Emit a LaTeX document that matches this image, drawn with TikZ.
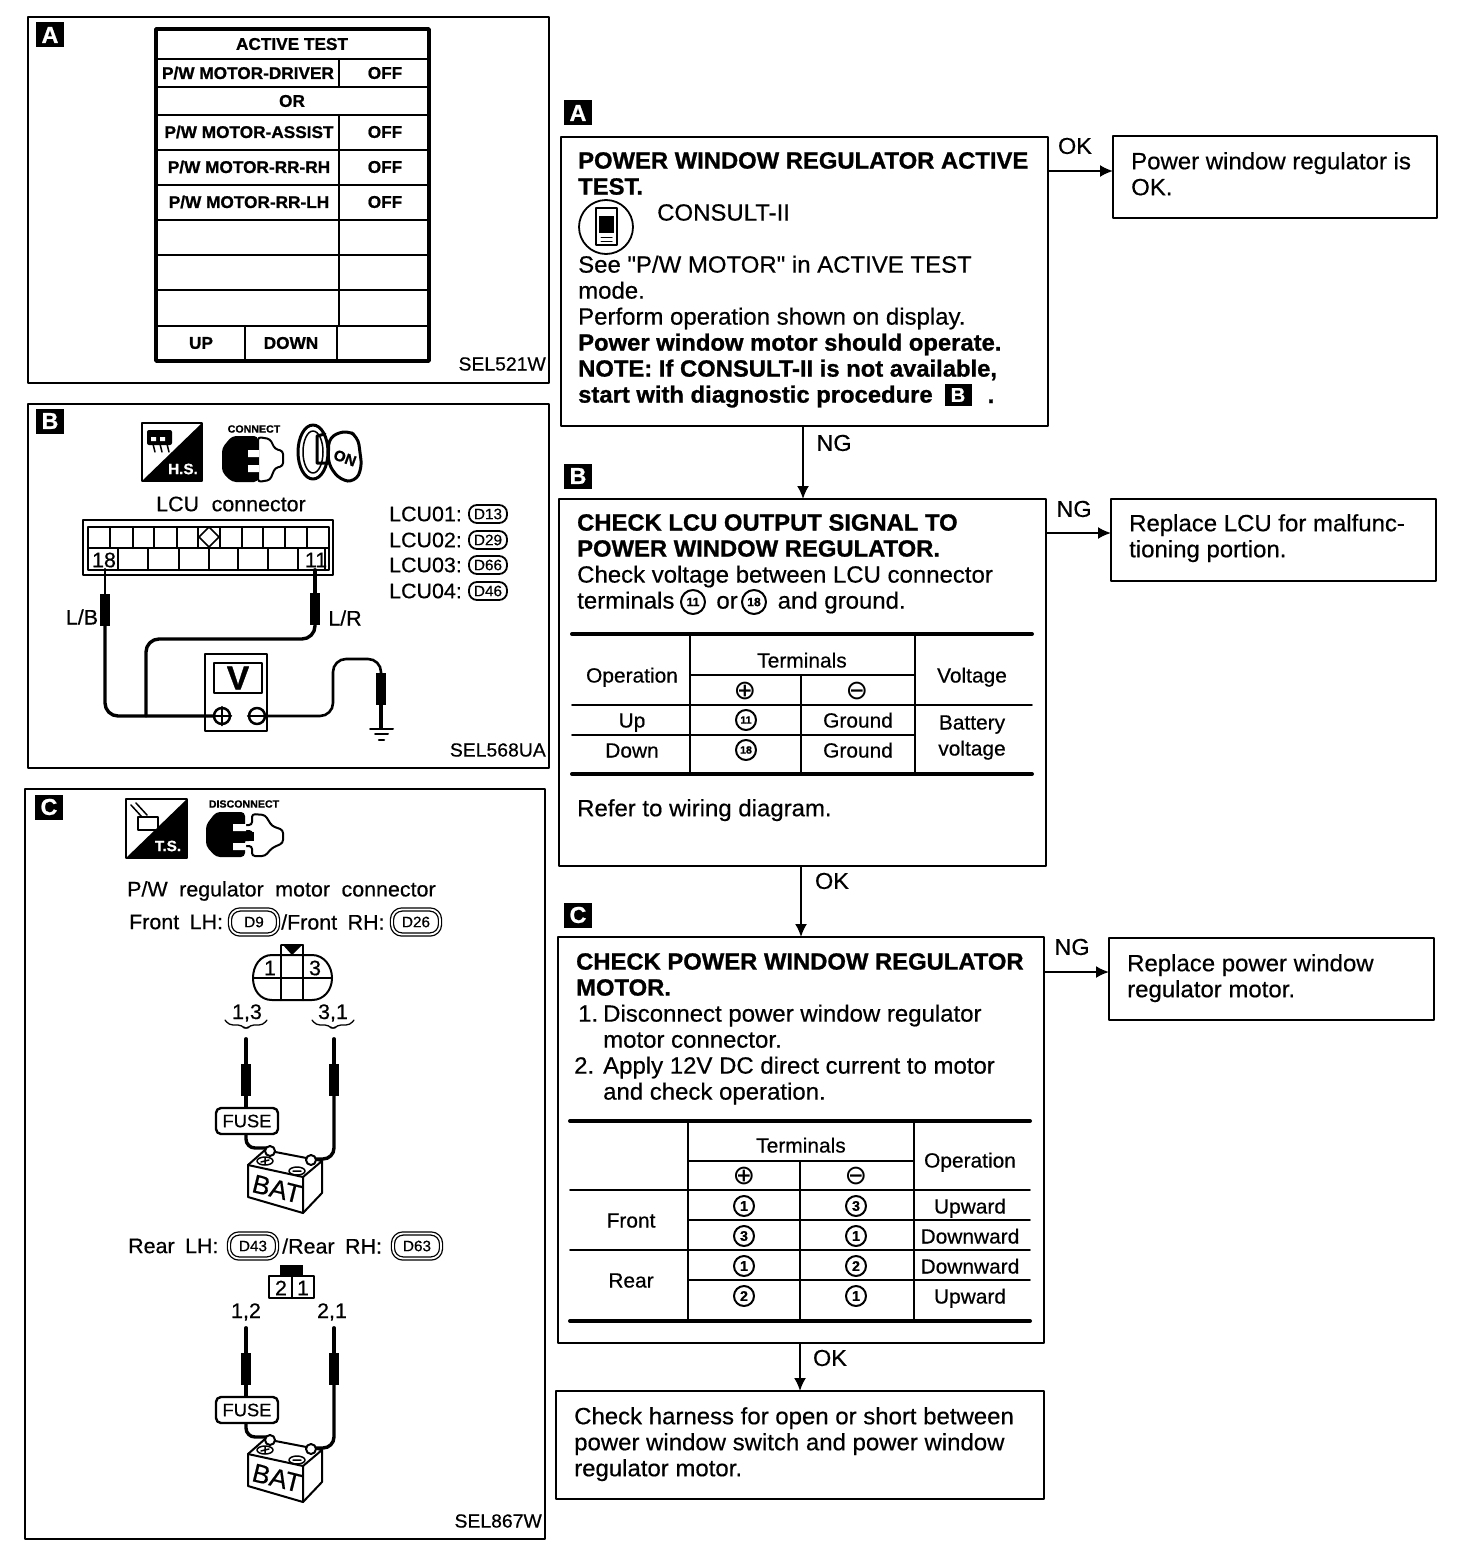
\documentclass[tikz,border=0pt]{standalone}
\usepackage{fontspec}
\setmainfont[Ligatures=TeXOff,FakeStretch=1.02,FakeBold=0.5,BoldFeatures={FakeStretch=1.013,FakeBold=1}]{Liberation Sans}
\newfontfamily\symfont{DejaVu Sans}
\usetikzlibrary{arrows.meta, positioning}

\begin{document}
\begin{tikzpicture}[
  x=1pt,
  y=-1pt,
  line cap=round,
  line join=round,
  panel/.style={
    draw=black,
    line width=2pt,
    inner sep=0pt,
    outer sep=0pt
  },
  flowbox/.style={
    draw=black,
    line width=2pt,
    inner sep=0pt,
    outer sep=0pt
  },
  badge/.style={
    fill=black,
    text=white,
    font=\fontsize{23}{23}\selectfont\bfseries,
    minimum width=28pt,
    minimum height=25pt,
    inner sep=0pt
  },
  body/.style={
    anchor=north west,
    align=left,
    inner sep=0pt,
    font=\fontsize{23.5}{26}\selectfont
  },
  flag/.style={
    font=\fontsize{23}{23}\selectfont,
    inner sep=0pt
  },
  cell/.style={
    font=\fontsize{20.5}{26}\selectfont,
    inner sep=0pt,
    text height=15pt,
    text depth=0pt,
    align=center
  },
  signcell/.style={
    font=\fontsize{27}{27}\selectfont\symfont,
    inner sep=0pt
  },
  pinmark/.style={
    draw=black,
    circle,
    line width=2pt,
    fill=white,
    minimum size=20pt,
    inner sep=0pt,
    font=\fontsize{14}{14}\selectfont\bfseries
  },
  smallpin/.style={
    pinmark,
    font=\fontsize{10.5}{10}\selectfont\bfseries
  },
  testcell/.style={
    font=\fontsize{17}{17}\selectfont\bfseries,
    inner sep=0pt
  },
  sheet/.style={
    font=\fontsize{19}{18}\selectfont,
    anchor=east,
    inner sep=0pt
  },
  note/.style={
    font=\fontsize{21}{21}\selectfont,
    inner sep=0pt
  },
  tag/.style={
    draw=black,
    line width=1.8pt,
    rounded corners=8pt,
    minimum width=38pt,
    minimum height=18pt,
    inner sep=0pt,
    font=\fontsize{15}{15}\selectfont
  },
  dtag/.style={
    draw=black,
    line width=1.3pt,
    double,
    double distance=1.8pt,
    rounded corners=10pt,
    minimum width=48pt,
    minimum height=25pt,
    inner sep=0pt,
    font=\fontsize{15}{15}\selectfont
  },
  probe/.style={
    fill=black,
    minimum width=10pt,
    minimum height=32pt,
    inner sep=0pt
  },
  fuse/.style={
    draw=black,
    line width=2.4pt,
    fill=white,
    rounded corners=5pt,
    minimum width=62pt,
    minimum height=26pt,
    inner sep=0pt,
    font=\fontsize{18}{18}\selectfont
  },
  wire/.style={line width=3.4pt},
  thinwire/.style={line width=2pt},
  rule/.style={line width=1.8pt},
  testrule/.style={line width=2.4pt},
  heavy/.style={line width=4pt},
  arrow/.style={
    -{Latex[length=13pt,width=12pt]},
    line width=2pt,
    draw=black
  }
]
\path[fill=white] (0,0) rectangle (1472,1560);
\useasboundingbox (0,0) rectangle (1472,1560);

% ------------------------------------------------
% Panel A: active test display
% ------------------------------------------------
\node[panel, minimum width=521pt, minimum height=366pt] (panelA) at (288.5,200) {};
\node[badge] (tagA) at (50,35) {A};

\draw[line width=3.5pt] (156,29) rectangle (429,361);
\foreach \y in {59,87,115,150,185,220,255,290,326}
  \draw[testrule] (156,\y) -- (429,\y);
\draw[testrule] (339,59) -- (339,87);
\draw[testrule] (339,115) -- (339,326);
\draw[testrule] (245,326) -- (245,361);
\draw[testrule] (337,326) -- (337,361);

\node[testcell] (testHead) at (292,44) {ACTIVE TEST};
\node[testcell] (testOr) at (292,101) {OR};
\foreach \y/\lbl/\xx [count=\n] in {
    73/DRIVER/248, 132/ASSIST/249, 167/RR-RH/249, 202/RR-LH/249} {
  \node[testcell] (motor\n) at (\xx,\y) {P/W MOTOR-\lbl};
  \node[testcell] (off\n) at (385,\y) {OFF};
}
\node[testcell] (testUp) at (201,343) {UP};
\node[testcell] (testDown) at (291,343) {DOWN};
\node[sheet] (sheetA) at (546,364) {SEL521W};

% ------------------------------------------------
% Panel B: LCU output check
% ------------------------------------------------
\node[panel, minimum width=521pt, minimum height=364pt] (panelB) at (288.5,586) {};
\node[badge] (tagB) at (50,421) {B};

% harness side icon
\draw[line width=1.5pt] (142,423) rectangle (202,481);
\fill (202,423) -- (202,481) -- (142,481) -- cycle;
\fill[rounded corners=2pt] (147,430) rectangle (172,445);
\draw[line width=1.5pt] (153,444) -- (155,452) (160,444) -- (162,452) (167,444) -- (169,452);
\fill[white] (151,437) rectangle (156,441) (160,437) rectangle (165,441);
\node[font=\fontsize{15}{15}\selectfont\bfseries, text=white, inner sep=0pt] (iconHS) at (183,469) {H.S.};

% connector icon
\node[font=\fontsize{10.5}{10}\selectfont\bfseries, inner sep=0pt] (iconConnect) at (254,429) {CONNECT};
\draw[line width=2pt, fill=white, rounded corners=3pt] (258,437) -- (270,439) -- (275,449) -- (283,451) -- (283,466) -- (275,468) -- (270,480) -- (258,482) -- cycle;
\fill[rounded corners=4pt] (232,436) -- (258,436) -- (258,482) -- (232,482) -- (222,472) -- (222,448) -- cycle;
\fill[white] (248,450) rectangle (259,457) (248,465) rectangle (259,472);

% ignition switch icon
\draw[line width=3pt] (313,452) ellipse (15pt and 27pt);
\draw[line width=1.5pt] (313,452) ellipse (10pt and 21pt);
\draw[line width=3pt, fill=white, rounded corners=8pt] (329,437) -- (347,430) -- (358,437) -- (362,468) -- (355,482) -- (340,480) -- (328,464) -- cycle;
\draw[line width=3pt] (325,434) -- (317,436) -- (317,463) -- (328,463);
\node[font=\fontsize{15}{15}\selectfont\bfseries, rotate=-20, inner sep=0pt] (iconOn) at (345,458) {ON};

\node[note] (lcuTitle) at (231,504) {LCU\hspace{0.6em}connector};

% LCU connector body
\draw[line width=2pt] (83,520) rectangle (333,575);
\draw[line width=2.5pt] (88,527) rectangle (329,570);
\draw[line width=2pt] (88,548) -- (329,548);
\foreach \x in {110,133,154,177,198,220,242,263,285,307}
  \draw[line width=2pt] (\x,527) -- (\x,548);
\foreach \x in {118,148,179,209,238,268,298,325}
  \draw[line width=2pt] (\x,548) -- (\x,570);
\draw[line width=1.5pt, fill=white] (209,527) -- (219,537) -- (209,547) -- (199,537) -- cycle;
\node[note] (pin18) at (104,560) {18};
\node[note] (pin11) at (316,560) {11};

\node[note] (wireLB) at (82,617) {L/B};
\node[note] (wireLR) at (345,618) {L/R};

\foreach \y/\lbl/\code [count=\n] in {514/01/D13, 540/02/D29, 565/03/D66, 591/04/D46} {
  \node[note, anchor=west] (lcu\n) at (389,\y) {LCU\lbl:};
  \node[tag] (lcuTag\n) at (488,\y) {\code};
}

% voltmeter
\node[draw, line width=2pt, minimum width=62pt, minimum height=77pt, inner sep=0pt] (meter) at (236,692) {};
\node[draw, line width=2.4pt, minimum width=48pt, minimum height=30pt, inner sep=0pt,
  font=\fontsize{33}{33}\selectfont\bfseries] (meterV) at (238,678) {V};
\node[draw, circle, line width=2.5pt, minimum size=16pt, inner sep=0pt] (plus) at (222,716) {};
\node[draw, circle, line width=2.5pt, minimum size=16pt, inner sep=0pt] (minus) at (257,716) {};
\draw[line width=2pt] (plus.west) -- (plus.east) (plus.north) -- (plus.south) (minus.west) -- (minus.east);

\node[probe] (probeL) at (105,610) {};
\node[probe] (probeR) at (315,609) {};
\node[probe] (probeG) at (381,689) {};
\draw[thinwire] (probeL.north) -- ++(0,-25);
\draw[wire] (probeR.north) -- ++(0,-23);
\draw[wire, rounded corners=13pt] (probeL.south) |- (plus.west);
\draw[wire, rounded corners=13pt] (probeR.south) |- (146,639) -- (146,716);
\draw[line width=2.6pt, rounded corners=13pt] (minus.east) -- (333,716) -- (333,659) -- (381,659) -- (probeG.north);
\draw[wire] (probeG.south) -- (381,728);
\draw[thinwire] (370,729) -- (393,729);
\draw[thinwire] (375,734) -- (388,734);
\draw[line width=2.5pt] (379,740) -- (384,740);

\node[sheet] (sheetB) at (546,750) {SEL568UA};

% ------------------------------------------------
% Panel C: regulator motor check
% ------------------------------------------------
\node[panel, minimum width=520pt, minimum height=750pt] (panelC) at (285,1164) {};
\node[badge] (tagC) at (49,807) {C};

\draw[line width=1.5pt] (126,799) rectangle (187,858);
\fill (187,799) -- (187,858) -- (126,858) -- cycle;
\draw[line width=2pt] (138,817) rectangle (158,830);
\draw[line width=1.5pt] (131,805) -- (142,817) (136,803) -- (147,815);
\node[font=\fontsize{15}{15}\selectfont\bfseries, text=white, inner sep=0pt] (iconTS) at (168,846) {T.S.};

\node[font=\fontsize{10.5}{10}\selectfont\bfseries, inner sep=0pt] (iconDisconnect) at (244,804) {DISCONNECT};
\draw[line width=2pt, fill=white, rounded corners=3pt] (252,814) -- (265,815) -- (272,826) -- (283,830) -- (283,843) -- (272,848) -- (265,856) -- (252,856) -- (252,846) -- (243,846) -- (243,840) -- (252,840) -- (252,831) -- (243,831) -- (243,825) -- (252,825) -- cycle;
\fill[rounded corners=4pt] (216,812) -- (245,812) -- (245,857) -- (216,857) -- (206,846) -- (206,825) -- cycle;
\fill[white] (233,824) rectangle (246,831) (233,843) rectangle (246,850);
\fill (235,832) rectangle (254,841);

\node[note, anchor=west] (motorTitle) at (127,891) {P/W\hspace{0.55em}regulator\hspace{0.55em}motor\hspace{0.55em}connector};
\node[note, anchor=west] (frontLH) at (129,922) {Front\hspace{0.5em}LH:};
\node[dtag] (tagD9) at (254,922) {D9};
\node[note, anchor=west] (frontRH) at (281,922) {/Front\hspace{0.5em}RH:};
\node[dtag] (tagD26) at (416,922) {D26};
\node[note, anchor=west] (rearLH) at (128,1246) {Rear\hspace{0.5em}LH:};
\node[dtag] (tagD43) at (253,1246) {D43};
\node[note, anchor=west] (rearRH) at (282,1246) {/Rear\hspace{0.5em}RH:};
\node[dtag] (tagD63) at (417,1246) {D63};

% front connector
\draw[line width=2pt] (272,955) -- (312,955)
  .. controls (324,955) and (332,966) .. (332,978)
  .. controls (332,990) and (324,1000) .. (312,1000)
  -- (272,1000)
  .. controls (260,1000) and (253,990) .. (253,978)
  .. controls (253,966) and (260,955) .. (272,955);
\draw[line width=2pt] (253,978) -- (332,978) (281,945) -- (281,1000) (303,945) -- (303,1000) (281,945) -- (303,945);
\fill (283,945) -- (302,945) -- (292,955) -- cycle;
\node[note] (pinF1) at (270,968) {1};
\node[note] (pinF3) at (315,968) {3};
\node[note] (pinsFL) at (247,1013) {1,3};
\node[note] (pinsFR) at (333,1013) {3,1};
\foreach \x in {246,333}
  \draw[line width=1.3pt, rounded corners=4pt] (\x-21,1020) -- (\x-17,1025) -- (\x-4,1025) -- (\x,1030) -- (\x+4,1025) -- (\x+17,1025) -- (\x+21,1020);

% rear connector
\fill (280,1265) rectangle (303,1276);
\draw[line width=2pt] (269,1276) rectangle (314,1298) (292,1276) -- (292,1298);
\node[note] (pinR2) at (281,1288) {2};
\node[note] (pinR1) at (303,1288) {1};
\node[note] (pinsRL) at (246,1312) {1,2};
\node[note] (pinsRR) at (332,1312) {2,1};

% test leads, fuse and battery, front then rear
\foreach \dy in {0,289} {
  \begin{scope}[shift={(0,\dy)}]
    \node[probe] (leadL\dy) at (246,1080) {};
    \node[probe] (leadR\dy) at (334,1080) {};
    \node[fuse] (fuse\dy) at (247,1121) {FUSE};
    \draw[wire] (leadL\dy.north) -- ++(0,-25);
    \draw[wire] (leadR\dy.north) -- ++(0,-25);
    \draw[wire] (leadL\dy.south) -- (fuse\dy.north -| leadL\dy.south);
    \draw[line width=2pt, fill=white] (248,1165) -- (265,1150) -- (322,1161) -- (322,1193) -- (303,1213) -- (248,1197) -- cycle;
    \draw[line width=2pt] (248,1165) -- (303,1177) -- (322,1161) (303,1177) -- (303,1213);
    \draw[line width=1.5pt] (265,1161) ellipse (8pt and 4pt);
    \draw[line width=1.5pt] (297,1171) ellipse (8pt and 4pt);
    \draw[line width=1.5pt] (261,1162) -- (269,1160) (265,1158) -- (265,1164) (293,1171) -- (301,1171);
    \draw[wire, rounded corners=9pt] (fuse\dy.south -| leadL\dy.south) -- (246,1148) -- (270,1148);
    \draw[wire, rounded corners=11pt] (leadR\dy.south) -- (334,1159) -- (311,1159);
    \draw[line width=2pt, fill=white] (270,1151) circle (5pt);
    \draw[line width=2pt, fill=white] (311,1160) circle (5pt);
    \node[font=\fontsize{26}{26}\selectfont, rotate=-14, inner sep=0pt] (bat\dy) at (277,1189) {BAT};
  \end{scope}
}

\node[sheet] (sheetC) at (542,1521) {SEL867W};

% ------------------------------------------------
% Flow chart, first step
% ------------------------------------------------
\node[badge] (stepTagA) at (578,113) {A};
\node[flowbox, minimum width=487pt, minimum height=289pt] (stepA) at (804.5,281.5) {};
\node[body] (stepAText) at (578,152)
{\textbf{POWER WINDOW REGULATOR ACTIVE}\\
 \textbf{TEST.}\\
 \hspace{79pt}CONSULT-II\\
 \\
 See "P/W MOTOR" in ACTIVE TEST\\
 mode.\\
 Perform operation shown on display.\\
 \textbf{Power window motor should operate.}\\
 \textbf{NOTE: If CONSULT-II is not available,}\\
 \textbf{start with diagnostic procedure}};
\node[badge, minimum width=27pt, minimum height=22pt, font=\fontsize{20}{20}\selectfont\bfseries] (inlineB) at (958,395) {B};
\node[body, anchor=base] (stepADot) at (991,403) {\textbf{.}};

\draw[line width=1.8pt] (606,227) circle (27pt);
\draw[line width=1.6pt, fill=white] (596,208) rectangle (617,245);
\fill (599,216) rectangle (614,233);
\draw[line width=1pt] (601,237) -- (612,237) (601,241) -- (612,241);

\node[flowbox, minimum width=324pt, minimum height=82pt] (passA) at (1275,177) {};
\node[body] (passAText) at (1131,152) {Power window regulator is\\OK.};
\draw[arrow] ([yshift=-34pt]stepA.north east) -- ([yshift=-35pt]passA.north west);
\node[flag] (flagA1) at (1075,146) {OK};

% ------------------------------------------------
% Second step
% ------------------------------------------------
\node[badge] (stepTagB) at (578,476) {B};
\node[flowbox, minimum width=487pt, minimum height=367pt] (stepB) at (802.5,682.5) {};
\node[body] (stepBText) at (577,514)
{\textbf{CHECK LCU OUTPUT SIGNAL TO}\\
 \textbf{POWER WINDOW REGULATOR.}\\
 Check voltage between LCU connector\\
 terminals\hspace{42pt}or\hspace{40pt}and ground.};
\node[smallpin, minimum size=24pt, font=\fontsize{12}{12}\selectfont\bfseries] (pinInline1) at (693,602) {11};
\node[smallpin, minimum size=24pt, font=\fontsize{12}{12}\selectfont\bfseries] (pinInline2) at (754,602) {18};
\draw[arrow] (stepA.south -| 803,0) -- (stepB.north -| 803,0);
\node[flag] (flagA2) at (834,443) {NG};

\draw[heavy] (572,634) -- (1032,634);
\draw[heavy] (572,774) -- (1032,774);
\draw[rule] (690,634) -- (690,774);
\draw[rule] (915,634) -- (915,774);
\draw[rule] (801,675) -- (801,774);
\draw[rule] (690,675) -- (915,675);
\draw[rule] (572,705) -- (1032,705);
\draw[rule] (572,735) -- (915,735);
\node[cell] (headOpB) at (632,675) {Operation};
\node[cell] (headTermB) at (802,660) {Terminals};
\node[cell] (headVoltB) at (972,675) {Voltage};
\node[signcell] (plusB) at (745,691) {⊕};
\node[signcell] (minusB) at (857,691) {⊖};
\foreach \y/\op/\pin [count=\n] in {720/Up/11, 750/Down/18} {
  \node[cell] (opB\n) at (632,\y) {\op};
  \node[smallpin] (pinB\n) at (746,\y) {\pin};
  \node[cell] (gndB\n) at (858,\y) {Ground};
}
\node[cell] (battB) at (972,722) {Battery};
\node[cell] (voltB) at (972,748) {voltage};
\node[body] (stepBRefer) at (577,799) {Refer to wiring diagram.};

\node[flowbox, minimum width=325pt, minimum height=82pt] (failB) at (1273.5,540) {};
\node[body] (failBText) at (1129,514) {Replace LCU for malfunc-\\tioning portion.};
\draw[arrow] ([yshift=-34pt]stepB.north east) -- ([yshift=-34pt]failB.north west);
\node[flag] (flagB1) at (1074,509) {NG};

% ------------------------------------------------
% Third step
% ------------------------------------------------
\node[badge] (stepTagC) at (578,915) {C};
\node[flowbox, minimum width=486pt, minimum height=406pt] (stepC) at (801,1140) {};
\node[body] (stepCText) at (576,953)
{\textbf{CHECK POWER WINDOW REGULATOR}\\
 \textbf{MOTOR.}\\
 \makebox[27pt][l]{\hspace{2pt}1.}Disconnect power window regulator\\
 \hspace{27pt}motor connector.\\
 \makebox[27pt][l]{\hspace{-2pt}2.}Apply 12V DC direct current to motor\\
 \hspace{27pt}and check operation.};
\draw[arrow] (stepB.south -| 801,0) -- (stepC.north -| 801,0);
\node[flag] (flagB2) at (832,881) {OK};

\draw[heavy] (570,1121) -- (1030,1121);
\draw[heavy] (570,1321) -- (1030,1321);
\draw[rule] (688,1121) -- (688,1321);
\draw[rule] (914,1121) -- (914,1321);
\draw[rule] (800,1161) -- (800,1321);
\draw[rule] (688,1161) -- (914,1161);
\draw[rule] (570,1190) -- (1030,1190);
\draw[rule] (688,1220) -- (1030,1220);
\draw[rule] (570,1250) -- (1030,1250);
\draw[rule] (688,1280) -- (1030,1280);
\node[cell] (headTermC) at (801,1145) {Terminals};
\node[cell] (headOpC) at (970,1160) {Operation};
\node[signcell] (plusC) at (744,1176) {⊕};
\node[signcell] (minusC) at (856,1176) {⊖};
\node[cell] (rowFront) at (631,1220) {Front};
\node[cell] (rowRear) at (631,1280) {Rear};
\foreach \y/\pa/\pb/\op [count=\n] in {
    1206/1/3/Upward, 1236/3/1/Downward, 1266/1/2/Downward, 1296/2/1/Upward} {
  \node[pinmark] (pinCa\n) at (744,\y) {\pa};
  \node[pinmark] (pinCb\n) at (856,\y) {\pb};
  \node[cell] (opC\n) at (970,\y) {\op};
}

\node[flowbox, minimum width=325pt, minimum height=82pt] (failC) at (1271.5,979) {};
\node[body] (failCText) at (1127,954) {Replace power window\\regulator motor.};
\draw[arrow] ([yshift=-35pt]stepC.north east) -- ([yshift=-34pt]failC.north west);
\node[flag] (flagC1) at (1072,947) {NG};

% ------------------------------------------------
% Last step
% ------------------------------------------------
\node[flowbox, minimum width=488pt, minimum height=108pt] (lastStep) at (800,1445) {};
\node[body] (lastStepText) at (574,1407)
{Check harness for open or short between\\
 power window switch and power window\\
 regulator motor.};
\draw[arrow] (stepC.south -| 800,0) -- (lastStep.north -| 800,0);
\node[flag] (flagC2) at (830,1358) {OK};

\end{tikzpicture}
\end{document}
